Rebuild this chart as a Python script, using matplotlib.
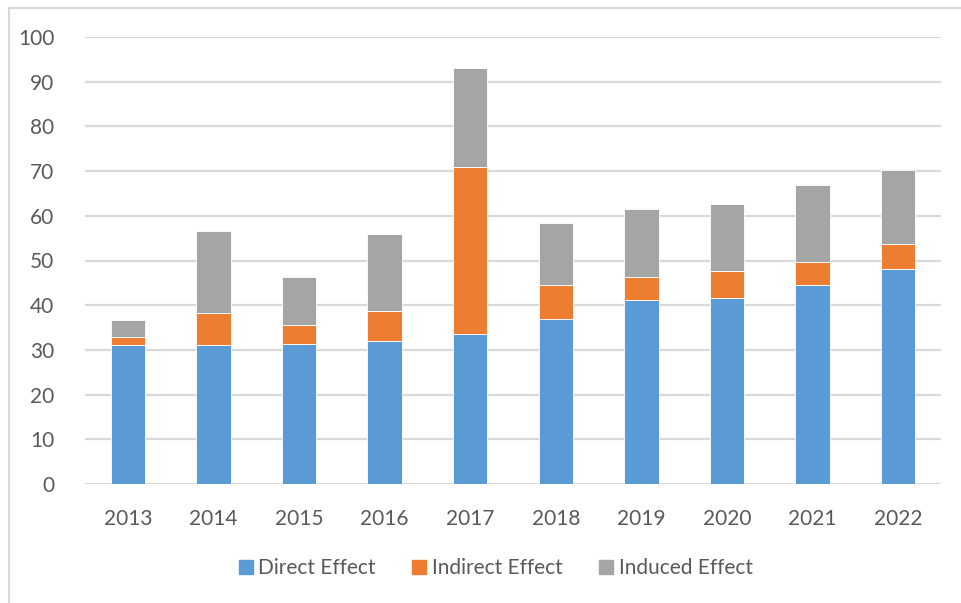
import matplotlib
matplotlib.use("Agg")
import matplotlib.pyplot as plt
from matplotlib.lines import Line2D
import numpy as np

years = ["2013", "2014", "2015", "2016", "2017", "2018", "2019", "2020", "2021", "2022"]
direct = [31.1, 31.1, 31.3, 31.9, 33.6, 36.9, 41.2, 41.5, 44.5, 48.2]
indirect = [1.7, 7.1, 4.3, 6.9, 37.3, 7.6, 5.2, 6.1, 5.2, 5.5]
induced = [3.9, 18.3, 10.7, 17.2, 22.1, 14.0, 15.2, 15.0, 17.1, 16.6]
series_names = ["Direct Effect", "Indirect Effect", "Induced Effect"]
colors = ["#5B9BD5", "#ED7D31", "#A5A5A5"]

plt.rcParams['font.family'] = ['Lato', 'DejaVu Sans']

W, H = 961, 603
fig = plt.figure(figsize=(W / 100, H / 100), dpi=100)
ax = fig.add_axes([85 / W, 1 - 484 / H, (941 - 85) / W, (484 - 37) / H])

x = np.arange(len(years))
bw = 0.40
d = np.array(direct)
i = np.array(indirect)
n = np.array(induced)
ax.bar(x, d, bw, color=colors[0], edgecolor='white', linewidth=0.6, zorder=3)
ax.bar(x, i, bw, bottom=d, color=colors[1], edgecolor='white', linewidth=0.6, zorder=3)
ax.bar(x, n, bw, bottom=d + i, color=colors[2], edgecolor='white', linewidth=0.6, zorder=3)

ax.set_xlim(-0.5, len(years) - 0.5)
ax.set_ylim(0, 100)
ax.set_yticks(np.arange(0, 101, 10))
ax.set_xticks(x)
ax.set_xticklabels(years)
ax.yaxis.grid(True, color='#D9D9D9', linewidth=1.6, zorder=0)
ax.set_axisbelow(True)
for s in ax.spines.values():
    s.set_visible(False)
ax.tick_params(axis='both', length=0, labelsize=15, labelcolor='#595959')
ax.tick_params(axis='y', pad=22)
ax.tick_params(axis='x', pad=18)

handles = [Line2D([0], [0], marker='s', linestyle='none', markersize=10,
                  markerfacecolor=c, markeredgecolor=c) for c in colors]
fig.legend(handles, series_names, loc='center', bbox_to_anchor=(494 / W, 1 - 568 / H),
           ncol=3, frameon=False, fontsize=15, labelcolor='#595959',
           handletextpad=0.1, columnspacing=1.6, handlelength=1.0)

# outer chart frame (top and left edges visible)
fig.add_artist(Line2D([9 / W, 1.0], [1 - 7.5 / H, 1 - 7.5 / H], color='#D9D9D9', linewidth=1.5,
                      transform=fig.transFigure))
fig.add_artist(Line2D([9 / W, 9 / W], [0, 1 - 7.5 / H], color='#D9D9D9', linewidth=1.5,
                      transform=fig.transFigure))

fig.savefig("out.png", dpi=100)
